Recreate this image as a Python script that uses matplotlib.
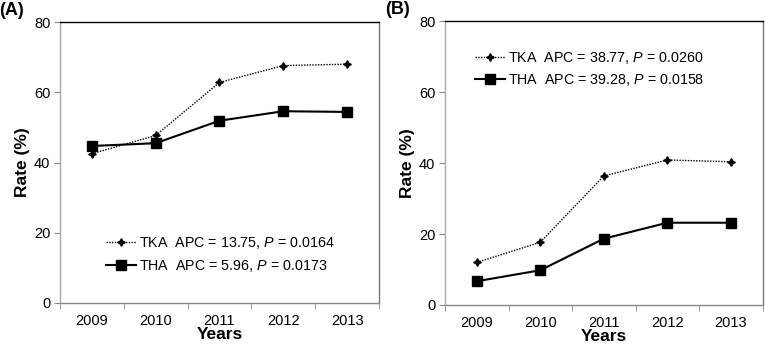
import matplotlib
matplotlib.use("Agg")
import matplotlib.pyplot as plt
import numpy as np

plt.rcParams['font.family'] = ['Liberation Sans', 'DejaVu Sans']
plt.rcParams['mathtext.fontset'] = 'custom'
plt.rcParams['mathtext.rm'] = 'Liberation Sans'
plt.rcParams['mathtext.it'] = 'Liberation Sans:italic'

years = ["2009", "2010", "2011", "2012", "2013"]
tka_a = [42.5, 47.7, 62.8, 67.6, 68.0]
tha_a = [44.7, 45.5, 51.9, 54.6, 54.4]
tka_b = [12.0, 17.7, 36.4, 40.9, 40.4]
tha_b = [6.7, 9.8, 18.7, 23.2, 23.2]
labels_a = ["TKA  APC = 13.75, $\\it{P}$ = 0.0164", "THA  APC = 5.96, $\\it{P}$ = 0.0173"]
labels_b = ["TKA  APC = 38.77, $\\it{P}$ = 0.0260", "THA  APC = 39.28, $\\it{P}$ = 0.0158"]
panel_labels = ["(A)", "(B)"]

fig = plt.figure(figsize=(7.65, 3.44), dpi=100)
axA = fig.add_axes([0.0784, 0.1192, 0.4170, 0.8168])
axB = fig.add_axes([0.5817, 0.1134, 0.4153, 0.8246])

star = (4, 1, 0)

def draw(ax, tka, tha, labels, panel, leg_anchor):
    x = np.arange(len(years))
    l1, = ax.plot(x, tka, linestyle=(0, (1, 1)), color='black', lw=1.0,
                  marker=star, markersize=5.5, markerfacecolor='black', markeredgecolor='black')
    l2, = ax.plot(x, tha, linestyle='-', color='black', lw=1.5,
                  marker='s', markersize=6.5, markerfacecolor='black')
    ax.set_xlim(-0.5, len(years) - 0.5)
    ax.set_ylim(0, 80)
    ax.set_yticks([0, 20, 40, 60, 80])
    ax.set_xticks(x)
    ax.set_xticklabels(years)
    ax.set_xticks(np.arange(-0.5, len(years)), minor=True)
    ax.tick_params(axis='x', which='major', length=0, labelsize=10.5, pad=8)
    ax.tick_params(axis='x', which='minor', length=4, direction='out', color='#888888')
    ax.tick_params(axis='y', length=4, direction='out', color='#888888', labelsize=10.5, pad=3)
    ax.spines['left'].set_color('#aaaaaa')
    ax.spines['bottom'].set_color('#888888')
    ax.spines['right'].set_color('#777777')
    ax.spines['top'].set_color('black')
    for s in ax.spines.values():
        s.set_linewidth(1.0)
    ax.set_xlabel("Years", fontweight='bold', fontsize=12.5, labelpad=-1)
    ax.set_ylabel("Rate (%)", fontweight='bold', fontsize=12.5, labelpad=3)
    leg = ax.legend([l1, l2], labels, loc='upper left', bbox_to_anchor=leg_anchor,
                    frameon=False, fontsize=10.3, handlelength=2.1, handletextpad=0.2,
                    labelspacing=0.45, borderaxespad=0)
    ax.text(-0.19, 1.01, panel, transform=ax.transAxes, fontsize=13,
            fontweight='bold', ha='left', va='bottom')

draw(axA, tka_a, tha_a, labels_a, panel_labels[0], (0.127, 0.262))
draw(axB, tka_b, tha_b, labels_b, panel_labels[1], (0.077, 0.92))

fig.savefig("out.png", dpi=100)
